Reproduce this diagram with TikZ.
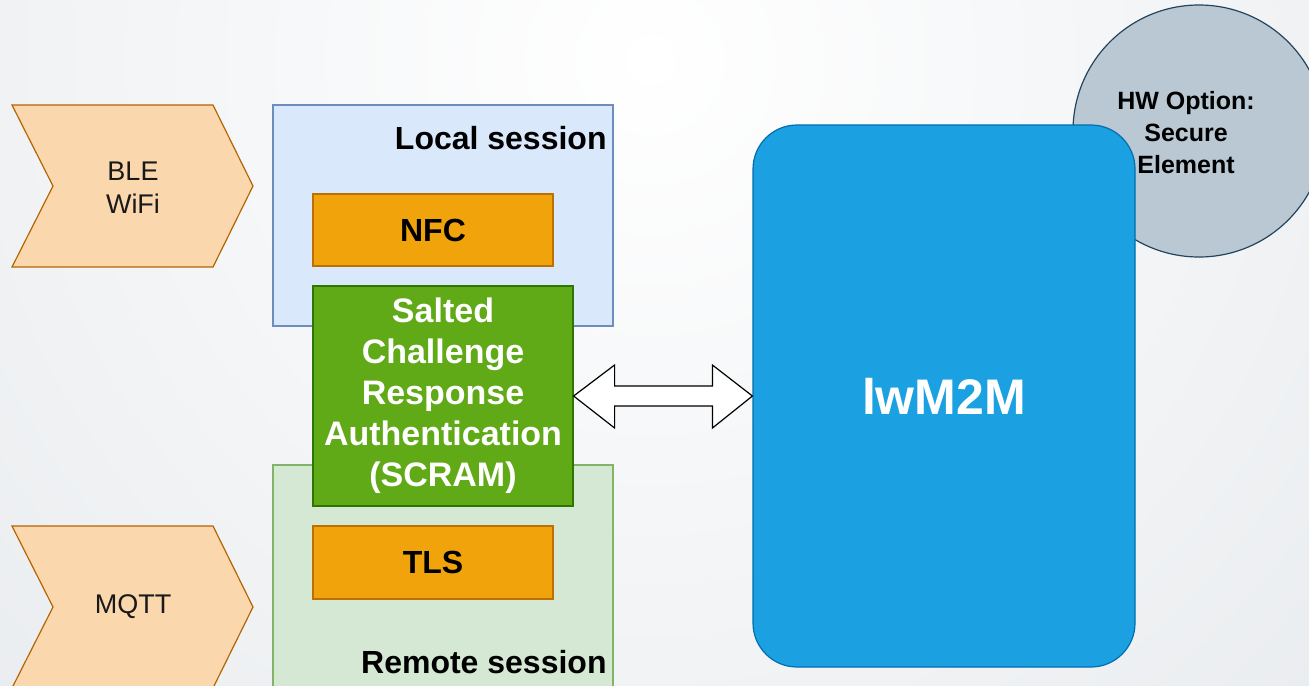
\documentclass[tikz,border=0pt]{standalone}
\usepackage{fontspec}
\setmainfont{Liberation Sans}
\usetikzlibrary{calc}
\definecolor{bgedge}{RGB}{232,235,238}
\definecolor{chevfill}{HTML}{FAD7AC}
\definecolor{chevline}{HTML}{B46504}
\definecolor{localfill}{HTML}{DAE8FC}
\definecolor{localline}{HTML}{6C8EBF}
\definecolor{remotefill}{HTML}{D5E8D4}
\definecolor{remoteline}{HTML}{82B366}
\definecolor{orfill}{HTML}{F0A30A}
\definecolor{orline}{HTML}{BD7000}
\definecolor{grfill}{HTML}{60A917}
\definecolor{grline}{HTML}{2D7600}
\definecolor{blfill}{HTML}{1BA1E2}
\definecolor{blline}{HTML}{006EAF}
\definecolor{hwfill}{HTML}{BAC8D3}
\definecolor{hwline}{HTML}{23445D}

\begin{document}
\begin{tikzpicture}[x=.5pt,y=-.5pt,
  box/.style={draw,line width=.6pt,inner sep=0pt},
  chev/.style={fill=chevfill,draw=chevline,line width=.6pt},
  plaintxt/.style={font=\fontsize{13.5}{16.5}\selectfont,align=center,text=black!90},
  boldtxt/.style={font=\bfseries\fontsize{16}{20}\selectfont,align=center},
  twoway/.style={draw=black,fill=white,line width=.6pt,line join=miter}]
\clip (0,0) rectangle (1309,685);
\shade[inner color=white,outer color=bgedge] (650,60) circle (1000);

% input channels
\draw[chev][shift={(12,105)}] (0,0) -- (201,0) -- (241,81) -- (201,162) -- (0,162) -- (41,81) -- cycle;
\node[plaintxt] (ble) at (133,188) {BLE\\WiFi};
\draw[chev][shift={(12,526)}] (0,0) -- (201,0) -- (241,81) -- (201,162) -- (0,162) -- (41,81) -- cycle;
\node[plaintxt] (mqtt) at (133,607) {MQTT};

% sessions
\node[box,fill=localfill,draw=localline,minimum width=170pt,minimum height=110.5pt] (local) at (443,215.5) {};
\node[boldtxt,anchor=east,inner sep=0pt] (locallbl) at (607,138) {Local session};
\node[box,fill=remotefill,draw=remoteline,minimum width=170pt,minimum height=127.5pt] (remote) at (443,592.5) {};
\node[boldtxt,anchor=east,inner sep=0pt] (remotelbl) at (607,662) {Remote session};
\node[box,boldtxt,fill=orfill,draw=orline,minimum width=120pt,minimum height=36pt] (nfc) at (433,230) {NFC};
\node[box,boldtxt,fill=orfill,draw=orline,minimum width=120pt,minimum height=36.5pt] (tls) at (433,562.5) {TLS};
\node[box,boldtxt,font=\bfseries\fontsize{17}{20.5}\selectfont,text=white,fill=grfill,draw=grline,
  minimum width=130pt,minimum height=110pt] (scram) at (443,396)
  {Salted\\Challenge\\Response\\Authentication\\(SCRAM)};

% device side
\node[circle,draw=hwline,fill=hwfill,line width=.6pt,minimum size=126pt,inner sep=0pt] (hw) at (1199,131) {};
\node[font=\bfseries\fontsize{12.5}{16}\selectfont,align=center] (hwlbl) at (1186,133) {HW Option:\\Secure\\Element};
\node[box,fill=blfill,draw=blline,rounded corners=22pt,minimum width=191pt,minimum height=271pt,
  text=white,font=\bfseries\fontsize{25}{30}\selectfont] (lwm) at (944,396) {lwM2M};

\draw[twoway] (scram.east) -- ++(41,-31) -- ++(0,21) -- ($(lwm.west)+(-40,-10)$) -- ++(0,-21) -- (lwm.west)
  -- ++(-40,32) -- ++(0,-22) -- ($(scram.east)+(41,10)$) -- ++(0,22) -- cycle;
\end{tikzpicture}
\end{document}
